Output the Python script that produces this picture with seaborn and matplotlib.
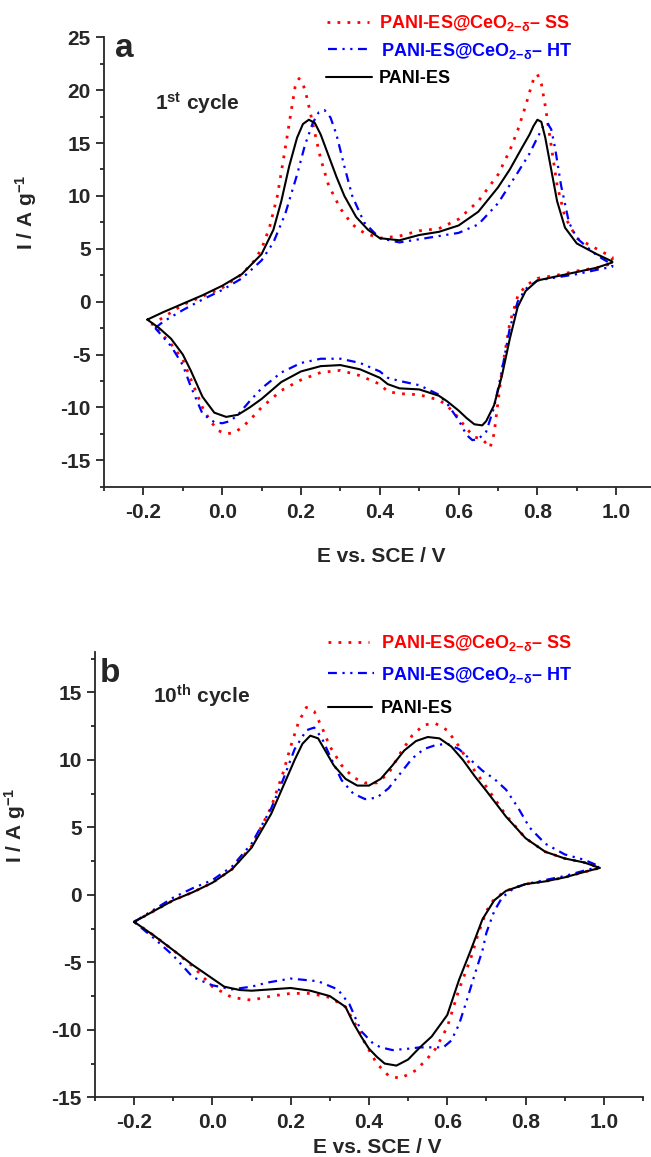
import numpy as np
import pandas as pd
import matplotlib
matplotlib.use("Agg")
import matplotlib.pyplot as plt
from matplotlib.ticker import MultipleLocator
from matplotlib.lines import Line2D
import seaborn as sns

# ---------------- data: panel a (1st cycle) ----------------
a_ss_up_E = [-0.18, -0.15, -0.1, -0.05, 0.0, 0.05, 0.08, 0.1, 0.12, 0.14, 0.16, 0.175, 0.185, 0.195, 0.205, 0.215, 0.23, 0.25, 0.27, 0.3, 0.33, 0.36, 0.4, 0.45, 0.5, 0.55, 0.6, 0.65, 0.7, 0.73, 0.75, 0.77, 0.78, 0.79, 0.80, 0.81, 0.82, 0.83, 0.85, 0.87, 0.9, 0.95, 0.99]
a_ss_up_I = [-2.2, -1.5, -0.3, 0.5, 1.3, 2.6, 3.8, 5.0, 7.0, 10.0, 14.5, 18.0, 20.3, 21.1, 20.6, 19.3, 16.8, 13.5, 11.0, 8.8, 7.3, 6.5, 6.0, 6.2, 6.7, 6.9, 7.8, 9.5, 12.0, 14.3, 16.2, 18.5, 19.8, 21.0, 21.5, 20.6, 18.5, 16.0, 11.0, 8.0, 6.0, 5.0, 4.2]
a_ss_dn_E = [0.99, 0.95, 0.9, 0.85, 0.8, 0.77, 0.75, 0.73, 0.71, 0.70, 0.69, 0.68, 0.66, 0.64, 0.62, 0.6, 0.57, 0.55, 0.5, 0.45, 0.42, 0.4, 0.35, 0.3, 0.25, 0.2, 0.15, 0.1, 0.07, 0.05, 0.03, 0.01, -0.01, -0.03, -0.05, -0.07, -0.1, -0.13, -0.16, -0.18]
a_ss_dn_I = [3.6, 3.2, 2.9, 2.5, 2.2, 1.5, 0.5, -2.0, -6.5, -9.5, -12.5, -13.8, -13.0, -12.8, -12.0, -11.0, -9.8, -9.3, -8.8, -8.7, -8.5, -7.8, -7.0, -6.5, -6.7, -7.4, -8.4, -10.0, -11.2, -11.9, -12.4, -12.5, -12.2, -11.3, -10.0, -8.2, -5.5, -4.0, -2.8, -2.2]

a_ht_up_E = [-0.17, -0.15, -0.1, -0.05, 0.0, 0.05, 0.1, 0.13, 0.16, 0.19, 0.21, 0.23, 0.245, 0.26, 0.275, 0.29, 0.31, 0.33, 0.36, 0.4, 0.45, 0.5, 0.55, 0.6, 0.65, 0.7, 0.75, 0.78, 0.80, 0.815, 0.825, 0.835, 0.845, 0.86, 0.88, 0.9, 0.95, 0.99]
a_ht_up_I = [-2.5, -1.9, -0.8, 0.2, 1.1, 2.2, 3.9, 5.6, 8.3, 12.0, 14.8, 16.9, 17.9, 18.1, 17.4, 15.8, 12.8, 10.0, 7.5, 6.0, 5.6, 5.9, 6.2, 6.5, 7.3, 9.3, 12.2, 14.0, 15.5, 16.6, 16.9, 16.3, 14.5, 11.0, 7.5, 6.0, 4.4, 3.5]
a_ht_dn_E = [0.99, 0.95, 0.9, 0.85, 0.8, 0.77, 0.75, 0.73, 0.71, 0.69, 0.67, 0.65, 0.635, 0.62, 0.6, 0.57, 0.55, 0.5, 0.45, 0.42, 0.4, 0.35, 0.3, 0.25, 0.2, 0.15, 0.1, 0.07, 0.04, 0.02, 0.0, -0.02, -0.05, -0.08, -0.1, -0.13, -0.17]
a_ht_dn_I = [3.3, 3.0, 2.6, 2.3, 2.0, 1.2, 0.0, -2.5, -6.5, -10.0, -12.3, -13.0, -13.1, -12.6, -11.2, -9.6, -8.8, -7.9, -7.5, -7.2, -6.6, -5.8, -5.4, -5.4, -5.8, -6.7, -8.2, -9.4, -10.7, -11.3, -11.5, -11.4, -10.6, -8.0, -6.0, -4.2, -2.5]

a_es_up_E = [-0.19, -0.15, -0.1, -0.05, 0.0, 0.05, 0.1, 0.13, 0.15, 0.17, 0.19, 0.205, 0.22, 0.235, 0.25, 0.27, 0.29, 0.31, 0.34, 0.37, 0.4, 0.45, 0.5, 0.55, 0.6, 0.65, 0.7, 0.73, 0.76, 0.78, 0.79, 0.80, 0.81, 0.82, 0.835, 0.85, 0.87, 0.9, 0.95, 0.99]
a_es_up_I = [-1.7, -1.0, -0.2, 0.6, 1.5, 2.6, 4.5, 6.8, 9.5, 12.8, 15.5, 16.8, 17.2, 16.9, 15.8, 13.8, 11.8, 10.0, 8.0, 6.8, 6.0, 5.8, 6.3, 6.6, 7.2, 8.5, 10.8, 12.5, 14.5, 15.8, 16.6, 17.2, 17.0, 15.5, 12.5, 9.5, 7.0, 5.5, 4.5, 3.8]
a_es_dn_E = [0.99, 0.95, 0.9, 0.85, 0.8, 0.77, 0.75, 0.73, 0.71, 0.69, 0.67, 0.66, 0.64, 0.62, 0.6, 0.57, 0.55, 0.5, 0.45, 0.42, 0.4, 0.35, 0.3, 0.25, 0.2, 0.15, 0.1, 0.07, 0.04, 0.01, -0.02, -0.05, -0.08, -0.1, -0.13, -0.16, -0.19]
a_es_dn_I = [3.7, 3.2, 2.8, 2.4, 2.0, 1.0, -0.5, -3.5, -7.0, -9.8, -11.3, -11.7, -11.6, -11.0, -10.3, -9.4, -8.9, -8.3, -8.2, -7.8, -7.2, -6.4, -6.0, -6.1, -6.6, -7.6, -9.2, -10.0, -10.7, -10.9, -10.5, -9.0, -6.5, -5.0, -3.5, -2.5, -1.7]

# ---------------- data: panel b (10th cycle) ----------------
b_ss_up_E = [-0.2, -0.15, -0.1, -0.05, 0.0, 0.05, 0.1, 0.15, 0.18, 0.2, 0.22, 0.24, 0.26, 0.28, 0.3, 0.33, 0.36, 0.39, 0.42, 0.45, 0.48, 0.51, 0.54, 0.57, 0.6, 0.63, 0.66, 0.7, 0.75, 0.8, 0.85, 0.9, 0.95, 0.99]
b_ss_up_I = [-2.0, -1.2, -0.4, 0.2, 0.9, 1.9, 3.6, 6.5, 9.0, 11.0, 12.8, 13.9, 13.6, 12.4, 11.0, 9.6, 8.7, 8.3, 8.3, 9.0, 10.5, 11.8, 12.6, 12.7, 12.2, 11.0, 9.6, 8.0, 5.9, 4.2, 3.2, 2.7, 2.4, 2.0]
b_ss_dn_E = [0.99, 0.95, 0.9, 0.85, 0.8, 0.75, 0.72, 0.7, 0.68, 0.66, 0.63, 0.6, 0.57, 0.55, 0.52, 0.48, 0.45, 0.42, 0.39, 0.36, 0.34, 0.3, 0.25, 0.2, 0.15, 0.1, 0.05, 0.0, -0.05, -0.1, -0.15, -0.2]
b_ss_dn_I = [2.0, 1.7, 1.3, 1.0, 0.8, 0.3, -0.3, -1.2, -2.8, -4.7, -7.0, -9.8, -11.4, -12.1, -13.0, -13.6, -13.4, -12.5, -11.0, -9.3, -8.3, -7.6, -7.3, -7.3, -7.5, -7.8, -7.6, -6.8, -5.3, -4.1, -3.0, -2.0]

b_ht_up_E = [-0.2, -0.15, -0.1, -0.05, 0.0, 0.05, 0.1, 0.15, 0.18, 0.21, 0.24, 0.26, 0.28, 0.3, 0.33, 0.36, 0.39, 0.42, 0.45, 0.48, 0.51, 0.54, 0.57, 0.6, 0.63, 0.66, 0.69, 0.72, 0.75, 0.78, 0.81, 0.85, 0.9, 0.95, 0.99]
b_ht_up_I = [-2.0, -1.1, -0.2, 0.5, 1.1, 2.1, 3.8, 6.4, 8.5, 10.8, 12.2, 12.4, 11.6, 10.3, 8.5, 7.5, 7.1, 7.2, 7.9, 9.0, 10.1, 10.8, 11.1, 11.2, 10.8, 10.0, 9.2, 8.6, 7.8, 6.5, 5.0, 3.8, 3.0, 2.6, 2.1]
b_ht_dn_E = [0.99, 0.95, 0.9, 0.85, 0.8, 0.77, 0.74, 0.72, 0.7, 0.69, 0.67, 0.65, 0.63, 0.61, 0.59, 0.56, 0.53, 0.5, 0.46, 0.43, 0.41, 0.38, 0.35, 0.32, 0.27, 0.2, 0.14, 0.1, 0.05, 0.0, -0.05, -0.1, -0.15, -0.2]
b_ht_dn_I = [2.1, 1.8, 1.4, 1.1, 0.8, 0.5, -0.2, -1.2, -2.8, -4.1, -5.9, -7.8, -9.6, -10.8, -11.3, -11.3, -11.3, -11.4, -11.5, -11.3, -11.0, -10.1, -8.1, -7.0, -6.4, -6.2, -6.5, -6.8, -7.0, -6.7, -6.1, -4.5, -3.2, -2.0]

b_es_up_E = [-0.2, -0.15, -0.1, -0.05, 0.0, 0.05, 0.1, 0.15, 0.18, 0.21, 0.23, 0.25, 0.27, 0.29, 0.31, 0.34, 0.37, 0.4, 0.43, 0.46, 0.49, 0.52, 0.55, 0.58, 0.61, 0.64, 0.67, 0.7, 0.75, 0.8, 0.85, 0.9, 0.95, 0.99]
b_es_up_I = [-2.0, -1.2, -0.4, 0.2, 0.9, 1.9, 3.5, 6.0, 8.0, 10.0, 11.2, 11.8, 11.6, 10.6, 9.6, 8.6, 8.1, 8.1, 8.6, 9.6, 10.7, 11.4, 11.7, 11.6, 11.0, 10.0, 8.8, 7.7, 5.8, 4.2, 3.2, 2.7, 2.4, 2.0]
b_es_dn_E = [0.99, 0.95, 0.9, 0.85, 0.8, 0.75, 0.72, 0.69, 0.66, 0.63, 0.6, 0.56, 0.53, 0.5, 0.47, 0.44, 0.42, 0.4, 0.38, 0.36, 0.34, 0.3, 0.25, 0.2, 0.15, 0.1, 0.07, 0.03, 0.0, -0.05, -0.1, -0.15, -0.2]
b_es_dn_I = [2.0, 1.7, 1.3, 1.0, 0.8, 0.3, -0.4, -1.8, -4.1, -6.3, -8.9, -10.5, -11.3, -12.2, -12.65, -12.5, -12.0, -11.4, -10.5, -9.5, -8.3, -7.5, -7.1, -6.9, -7.0, -7.1, -7.05, -6.8, -6.2, -5.2, -4.1, -3.0, -2.0]

series_labels = [r"PANI-ES@CeO$_{\mathbf{2{-}\delta}}$– SS",
                 r"PANI-ES@CeO$_{\mathbf{2{-}\delta}}$– HT",
                 "PANI-ES"]
series_colors = ["#ff0000", "#0000ff", "#000000"]
x_label = "E vs. SCE / V"
y_label = r"I / A g$^{\mathbf{-1}}$"

# ---------------- style ----------------
sns.set_style("ticks")
plt.rcParams["font.family"] = ["Liberation Sans", "DejaVu Sans"]
plt.rcParams["font.weight"] = "bold"
plt.rcParams["mathtext.fontset"] = "custom"
plt.rcParams["mathtext.rm"] = "Liberation Sans:bold"
plt.rcParams["mathtext.bf"] = "Liberation Sans:bold"
plt.rcParams["mathtext.it"] = "Liberation Sans:bold:italic"
plt.rcParams["mathtext.sf"] = "Liberation Sans:bold"
plt.rcParams["axes.unicode_minus"] = False

styles = [dict(linestyle=(0, (1, 2.6)), lw=2.0),
          dict(linestyle=(0, (4, 2.5, 1, 2.5, 1, 2.5)), lw=1.6),
          dict(linestyle="-", lw=1.5)]

W, H = 651, 1157
fig = plt.figure(figsize=(W / 100, H / 100), dpi=100)


def fx(px):
    return px / W


def fy(py):
    return 1 - py / H


ax_a = fig.add_axes([fx(104), fy(486.7), fx(655.6 - 104), (486.7 - 37.25) / H])
ax_b = fig.add_axes([fx(95), fy(1097.3), fx(643 - 95), (1097.3 - 652) / H])

panels = [
    (ax_a, [(a_ss_up_E, a_ss_up_I, a_ss_dn_E, a_ss_dn_I),
            (a_ht_up_E, a_ht_up_I, a_ht_dn_E, a_ht_dn_I),
            (a_es_up_E, a_es_up_I, a_es_dn_E, a_es_dn_I)], (-17.5, 25)),
    (ax_b, [(b_ss_up_E, b_ss_up_I, b_ss_dn_E, b_ss_dn_I),
            (b_ht_up_E, b_ht_up_I, b_ht_dn_E, b_ht_dn_I),
            (b_es_up_E, b_es_up_I, b_es_dn_E, b_es_dn_I)], (-15, 18)),
]

for ax, series, ylim in panels:
    for (uE, uI, dE, dI), col, st in zip(series, series_colors, styles):
        E = list(uE) + list(dE) + [uE[0]]
        I = list(uI) + list(dI) + [uI[0]]
        df = pd.DataFrame({"E": E, "I": I})
        sns.lineplot(data=df, x="E", y="I", sort=False, estimator=None,
                     color=col, ax=ax, solid_joinstyle="round",
                     dash_joinstyle="round", **st)
    ax.set_xlim(-0.3, 1.1)
    ax.set_ylim(*ylim)
    ax.xaxis.set_major_locator(MultipleLocator(0.2))
    ax.xaxis.set_minor_locator(MultipleLocator(0.1))
    ax.yaxis.set_major_locator(MultipleLocator(5))
    ax.yaxis.set_minor_locator(MultipleLocator(2.5))
    ax.xaxis.set_major_formatter(matplotlib.ticker.FormatStrFormatter("%.1f"))
    for s in ["top", "right"]:
        ax.spines[s].set_visible(False)
    for s in ["left", "bottom"]:
        ax.spines[s].set_linewidth(1.3)
    ax.tick_params(which="major", direction="out", length=5.5, width=1.1,
                   labelsize=15, color="black")
    ax.tick_params(which="minor", direction="out", length=3, width=1.1, color="black")
    ax.tick_params(axis="x", pad=6)
    ax.tick_params(axis="y", pad=4)
    for lab in ax.get_xticklabels() + ax.get_yticklabels():
        lab.set_fontweight("bold")
    ax.set_xlabel(x_label, fontsize=15, fontweight="bold")
    ax.set_ylabel(y_label, fontsize=15, fontweight="bold")
    ax.set_facecolor("white")

ax_a.xaxis.set_label_coords(0.502, -0.134)
ax_b.xaxis.set_label_coords(0.515, -0.092)
ax_a.yaxis.set_label_coords(-0.118, 0.61)
ax_b.yaxis.set_label_coords(-0.123, 0.61)

# panel letters and cycle annotations
fig.text(fx(115), fy(57), "a", fontsize=24, fontweight="bold", ha="left", va="baseline")
fig.text(fx(100), fy(682), "b", fontsize=24, fontweight="bold", ha="left", va="baseline")
fig.text(fx(155), fy(110), r"1$^{\mathbf{st}}$ cycle", fontsize=15, fontweight="bold", ha="left", va="baseline")
fig.text(fx(153), fy(704), r"10$^{\mathbf{th}}$ cycle", fontsize=15, fontweight="bold", ha="left", va="baseline")

# legends (drawn manually to match placement)
leg_rows = {
    "a": [(327, 369, 22, 379, 28.3), (328, 372, 49.3, 381, 56), (326, 372, 76.7, 379, 83.3)],
    "b": [(328, 369, 641.7, 381, 648.3), (328, 374, 673.3, 381, 680), (328, 372, 706.7, 381, 713.3)],
}
for key, rows in leg_rows.items():
    for (x0, x1, yl, xt, yb), lab, col, st in zip(rows, series_labels, series_colors, styles):
        fig.add_artist(Line2D([fx(x0), fx(x1)], [fy(yl), fy(yl)], color=col,
                              transform=fig.transFigure, **st))
        fig.text(fx(xt), fy(yb), lab, color=col, fontsize=13, fontweight="bold",
                 ha="left", va="baseline")

fig.savefig("out.png", dpi=100, facecolor="white")
